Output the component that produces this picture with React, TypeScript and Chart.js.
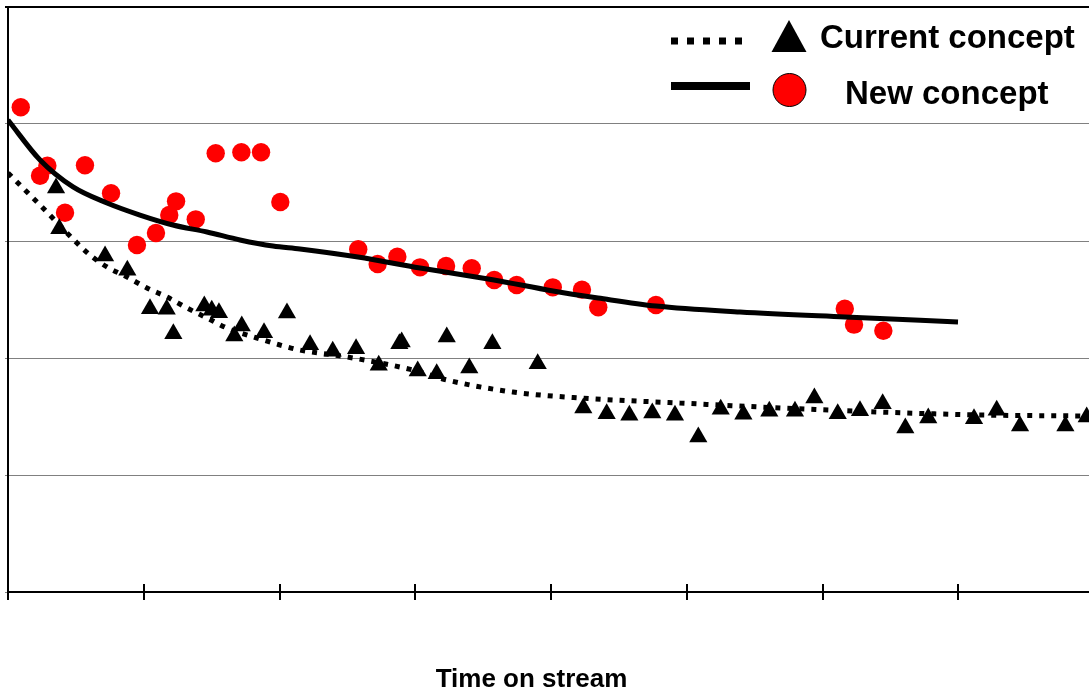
import React, { useEffect, useRef } from "react";
import { Chart, registerables } from "chart.js";

Chart.register(...registerables);

// ---- Data ----
const seriesLabels = ["Current concept", "New concept"];
const xAxisTitle = "Time on stream";
const xTickValues = [0, 1, 2, 3, 4, 5, 6, 7];

const currentX = [
  0.354, 0.378, 0.715, 0.879, 1.046, 1.169, 1.218, 1.446, 1.501, 1.554,
  1.667, 1.722, 1.886, 2.055, 2.225, 2.392, 2.564, 2.731, 2.883, 2.9,
  3.018, 3.158, 3.232, 3.398, 3.568, 3.902, 4.238, 4.41, 4.577, 4.746,
  4.913, 5.085, 5.25, 5.417, 5.608, 5.797, 5.94, 6.112, 6.276, 6.443,
  6.61, 6.779, 7.116, 7.283, 7.455, 7.789, 7.946,
];
const currentY = [
  3.453, 3.105, 2.872, 2.75, 2.421, 2.416, 2.208, 2.444, 2.408, 2.387,
  2.188, 2.274, 2.216, 2.385, 2.114, 2.057, 2.08, 1.938, 2.122, 2.137,
  1.889, 1.866, 2.179, 1.915, 2.122, 1.951, 1.573, 1.524, 1.51, 1.53,
  1.51, 1.325, 1.562, 1.519, 1.544, 1.544, 1.658, 1.524, 1.55, 1.609,
  1.402, 1.487, 1.481, 1.553, 1.419, 1.419, 1.496,
];

const newX = [
  0.094, 0.236, 0.29, 0.42, 0.567, 0.759, 0.95, 1.09, 1.188, 1.238,
  1.383, 1.53, 1.719, 1.864, 2.006, 2.58, 2.723, 2.868, 3.035, 3.227,
  3.416, 3.582, 3.747, 4.013, 4.228, 4.348, 4.773, 6.164, 6.232, 6.448,
];
const newY = [
  4.143, 3.558, 3.644, 3.242, 3.647, 3.408, 2.966, 3.068, 3.222, 3.339,
  3.185, 3.75, 3.758, 3.758, 3.333, 2.929, 2.803, 2.866, 2.775, 2.786,
  2.767, 2.667, 2.624, 2.604, 2.584, 2.433, 2.453, 2.421, 2.285, 2.233,
];

const currentFitX = [
  0, 0.125, 0.236, 0.471, 0.604, 0.729, 0.877, 1.024, 1.171, 1.319,
  1.466, 1.613, 1.834, 2.004, 2.151, 2.497, 2.983, 3.234, 3.72, 4.214,
  4.95, 5.687, 6.424, 7.16, 7.963,
];
const currentFitY = [
  3.581, 3.436, 3.308, 3.026, 2.88, 2.778, 2.692, 2.598, 2.521, 2.427,
  2.342, 2.256, 2.171, 2.111, 2.068, 2.009, 1.897, 1.812, 1.709, 1.658,
  1.615, 1.573, 1.538, 1.513, 1.504,
];

const newFitX = [
  0, 0.236, 0.479, 0.729, 0.972, 1.215, 1.466, 1.709, 1.952, 2.151,
  2.578, 3.035, 3.58, 4.015, 4.346, 4.773, 5.392, 6.166, 6.998,
];
const newFitY = [
  4.034, 3.692, 3.462, 3.325, 3.222, 3.137, 3.077, 3.009, 2.957, 2.932,
  2.863, 2.769, 2.667, 2.573, 2.513, 2.444, 2.393, 2.35, 2.308,
];

const toPoints = (xs: number[], ys: number[]) =>
  xs.map((x, i) => ({ x, y: ys[i] }));

const FONT = "'Liberation Sans', Arial, sans-serif";

const decorPlugin = {
  id: "decor",
  afterDraw(chart: any) {
    const ctx = chart.ctx as CanvasRenderingContext2D;
    const xs = chart.scales.x;
    const bottom = chart.chartArea.bottom;
    ctx.save();
    // crossing tick marks on the x axis
    ctx.strokeStyle = "#000";
    ctx.lineWidth = 2;
    ctx.setLineDash([]);
    xTickValues.forEach((v) => {
      const px = Math.round(xs.getPixelForValue(v));
      ctx.beginPath();
      ctx.moveTo(px, bottom - 8);
      ctx.lineTo(px, bottom + 8);
      ctx.stroke();
    });

    // axis title
    ctx.fillStyle = "#000";
    ctx.font = `bold 26px ${FONT}`;
    ctx.textAlign = "center";
    ctx.textBaseline = "alphabetic";
    ctx.fillText(xAxisTitle, 531.5, 687);

    // legend row 1: dotted line + triangle
    ctx.strokeStyle = "#000";
    ctx.lineWidth = 7;
    ctx.lineCap = "butt";
    ctx.setLineDash([7, 9]);
    ctx.beginPath();
    ctx.moveTo(671, 41);
    ctx.lineTo(748, 41);
    ctx.stroke();
    ctx.setLineDash([]);
    ctx.beginPath();
    ctx.moveTo(789, 20);
    ctx.lineTo(806.5, 52);
    ctx.lineTo(771.5, 52);
    ctx.closePath();
    ctx.fillStyle = "#000";
    ctx.fill();
    ctx.font = `bold 33px ${FONT}`;
    ctx.textAlign = "left";
    ctx.fillText(seriesLabels[0], 820, 47.5);

    // legend row 2: solid line + circle
    ctx.lineWidth = 8;
    ctx.beginPath();
    ctx.moveTo(671, 86);
    ctx.lineTo(750, 86);
    ctx.stroke();
    ctx.beginPath();
    ctx.arc(789.5, 90, 16.5, 0, Math.PI * 2);
    ctx.fillStyle = "#ff0000";
    ctx.fill();
    ctx.lineWidth = 1;
    ctx.strokeStyle = "#000";
    ctx.stroke();
    ctx.fillStyle = "#000";
    ctx.fillText(seriesLabels[1], 845, 104);
    ctx.restore();
  },
};

export default function App() {
  const canvasRef = useRef<HTMLCanvasElement | null>(null);

  useEffect(() => {
    if (!canvasRef.current) return;
    const chart = new Chart(canvasRef.current, {
      type: "scatter",
      data: {
        datasets: [
          {
            label: seriesLabels[0] + " trend",
            data: toPoints(currentFitX, currentFitY),
            showLine: true,
            borderColor: "#000",
            borderWidth: 5,
            borderDash: [5, 7],
            borderCapStyle: "butt",
            pointRadius: 0,
            tension: 0.4,
            cubicInterpolationMode: "monotone",
            fill: false,
          },
          {
            label: seriesLabels[1] + " trend",
            data: toPoints(newFitX, newFitY),
            showLine: true,
            borderColor: "#000",
            borderWidth: 5,
            pointRadius: 0,
            tension: 0.4,
            cubicInterpolationMode: "monotone",
            fill: false,
          },
          {
            label: seriesLabels[0],
            data: toPoints(currentX, currentY),
            pointStyle: "triangle",
            pointRadius: 10.5,
            pointBackgroundColor: "#000",
            pointBorderColor: "#000",
            pointBorderWidth: 0,
          },
          {
            label: seriesLabels[1],
            data: toPoints(newX, newY),
            pointStyle: "circle",
            pointRadius: 9.2,
            pointBackgroundColor: "#ff0000",
            pointBorderColor: "#ff0000",
            pointBorderWidth: 0,
          },
        ],
      },
      options: {
        animation: false,
        responsive: true,
        maintainAspectRatio: false,
        layout: { autoPadding: false, padding: { top: 7, left: 0, right: 0, bottom: 0 } },
        plugins: {
          legend: { display: false },
          tooltip: { enabled: false },
          title: { display: false },
        },
        scales: {
          x: {
            type: "linear",
            min: 0,
            max: 7.963,
            ticks: { display: false, stepSize: 1 },
            grid: { display: false },
            border: { display: true, color: "#000", width: 2 },
            afterFit: (scale: any) => {
              scale.height = 102;
            },
          },
          y: {
            type: "linear",
            min: 0,
            max: 5,
            ticks: { display: false, stepSize: 1 },
            grid: {
              display: true,
              drawTicks: true,
              tickLength: 3,
              color: (c: any) => (c.tick && c.tick.value === 5 ? "#000" : "#808080"),
              lineWidth: (c: any) => (c.tick && c.tick.value === 5 ? 2 : 1),
            },
            border: { display: true, color: "#000", width: 2 },
            afterFit: (scale: any) => {
              scale.width = 8;
            },
          },
        },
      },
      plugins: [decorPlugin],
    });
    return () => chart.destroy();
  }, []);

  return (
    <div
      style={{
        position: "absolute",
        left: 0,
        top: 0,
        width: "1089px",
        height: "694px",
        background: "#fff",
        overflow: "hidden",
      }}
    >
      <canvas ref={canvasRef} />
    </div>
  );
}
